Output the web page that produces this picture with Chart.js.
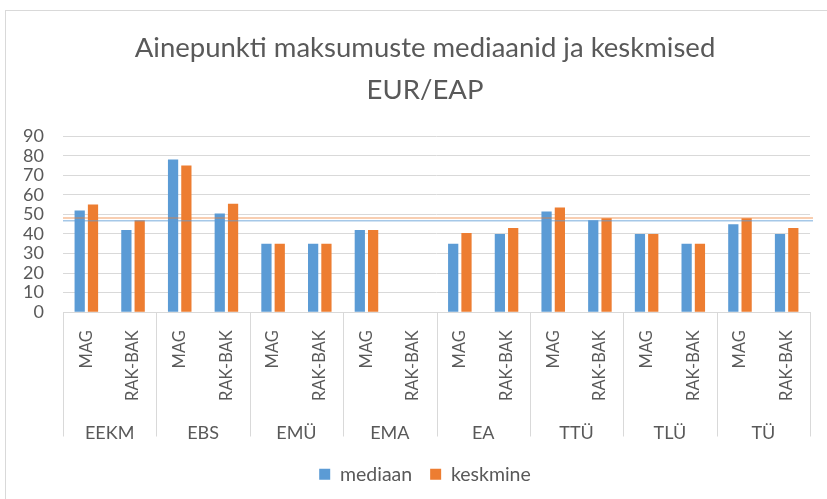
<!DOCTYPE html>
<html>
<head>
<meta charset="utf-8">
<script src="https://cdn.jsdelivr.net/npm/chart.js@4"></script>
<style>
    body { margin: 0; background: #fff; }
    #frame { position: absolute; left: 5px; top: 10px; width: 840px; height: 500px; border: 1px solid #d9d9d9; }
    #box { position: absolute; left: 0; top: 0; width: 827px; height: 499px; }
</style>
</head>
<body>
<div id="frame"></div>
<div id="box"><canvas id="chart"></canvas></div>
<script>
// Andmed
const groups = ['EEKM', 'EBS', 'EMÜ', 'EMA', 'EA', 'TTÜ', 'TLÜ', 'TÜ'];
const levels = ['MAG', 'RAK-BAK'];
const mediaan = [52, 42, 78, 50.5, 35, 35, 42, null, 35, 40, 51.5, 47, 40, 35, 45, 40];
const keskmine = [55, 47, 75, 55.5, 35, 35, 42, null, 40.5, 43, 53.5, 48, 40, 35, 48, 43];
const avgLines = [48.2, 46.7]; // keskmine, mediaan
const yTicks = [0, 10, 20, 30, 40, 50, 60, 70, 80, 90];

const labels = [];
groups.forEach(() => levels.forEach(l => labels.push(l)));

const blue = '#5b9bd5';
const orange = '#ed7d31';
const gray = '#595959';
const gridColor = '#d9d9d9';
const font = 'Lato, "Open Sans", sans-serif';

// eraldusjooned gruppide vahel
const groupLines = {
    id: 'groupLines',
    afterDraw(chart) {
        const g = chart.scales.xGroup;
        const area = chart.chartArea;
        const ctx = chart.ctx;
        const step = g.width / groups.length;
        ctx.save();
        ctx.strokeStyle = gridColor;
        ctx.lineWidth = 1;
        for (let i = 0; i <= groups.length; i++) {
            const x = Math.round(g.left + i * step) + 0.5;
            ctx.beginPath();
            ctx.moveTo(x, area.bottom);
            ctx.lineTo(x, g.bottom - 10);
            ctx.stroke();
        }
        ctx.restore();
    }
};

// keskmiste horisontaaljooned
const avgLinePlugin = {
    id: 'avgLines',
    afterDatasetsDraw(chart) {
        const y = chart.scales.y;
        const area = chart.chartArea;
        const ctx = chart.ctx;
        const colors = ['rgba(237,125,49,0.5)', 'rgba(91,155,213,0.55)'];
        ctx.save();
        ctx.lineWidth = 1.5;
        avgLines.forEach((v, i) => {
            const py = y.getPixelForValue(v);
            ctx.strokeStyle = colors[i];
            ctx.beginPath();
            ctx.moveTo(area.left, py);
            ctx.lineTo(area.right + 3, py);
            ctx.stroke();
        });
        ctx.restore();
    }
};

new Chart(document.getElementById('chart'), {
    type: 'bar',
    data: {
        labels: labels,
        datasets: [
            {
                label: 'mediaan',
                data: mediaan,
                backgroundColor: blue,
                categoryPercentage: 0.57,
                barPercentage: 0.77
            },
            {
                label: 'keskmine',
                data: keskmine,
                backgroundColor: orange,
                categoryPercentage: 0.57,
                barPercentage: 0.77
            }
        ]
    },
    options: {
        responsive: true,
        maintainAspectRatio: false,
        animation: false,
        layout: { padding: { left: 40, right: 17, top: 0, bottom: 5 } },
        plugins: {
            title: {
                display: true,
                text: ['Ainepunkti maksumuste mediaanid ja keskmised', 'EUR/EAP'],
                color: gray,
                font: { family: font, size: 27.5, weight: 'normal', lineHeight: 1.53 },
                padding: { top: 27, bottom: 25 }
            },
            legend: {
                position: 'bottom',
                labels: {
                    boxWidth: 11,
                    boxHeight: 11,
                    color: gray,
                    font: { family: font, size: 19.5 },
                    padding: 18
                }
            },
            tooltip: { enabled: false }
        },
        scales: {
            x: {
                type: 'category',
                position: 'bottom',
                grid: { display: false },
                border: { display: true, color: gridColor },
                ticks: {
                    color: gray,
                    font: { family: font, size: 16.5 },
                    minRotation: 90,
                    maxRotation: 90,
                    autoSkip: false,
                    padding: 10
                }
            },
            xGroup: {
                type: 'category',
                position: 'bottom',
                weight: 1,
                labels: groups,
                offset: true,
                grid: { display: false },
                border: { display: false },
                ticks: {
                    color: gray,
                    font: { family: font, size: 18 },
                    padding: 3
                }
            },
            y: {
                min: 0,
                max: 90,
                afterBuildTicks: s => { s.ticks = yTicks.map(v => ({ value: v })); },
                afterFit: s => { s.width = 23; },
                grid: { color: gridColor, drawTicks: false },
                border: { display: false },
                ticks: {
                    color: gray,
                    font: { family: font, size: 18 },
                    mirror: true,
                    crossAlign: 'far',
                    padding: -40,
                    autoSkip: false
                }
            }
        }
    },
    plugins: [groupLines, avgLinePlugin]
});
</script>
</body>
</html>
